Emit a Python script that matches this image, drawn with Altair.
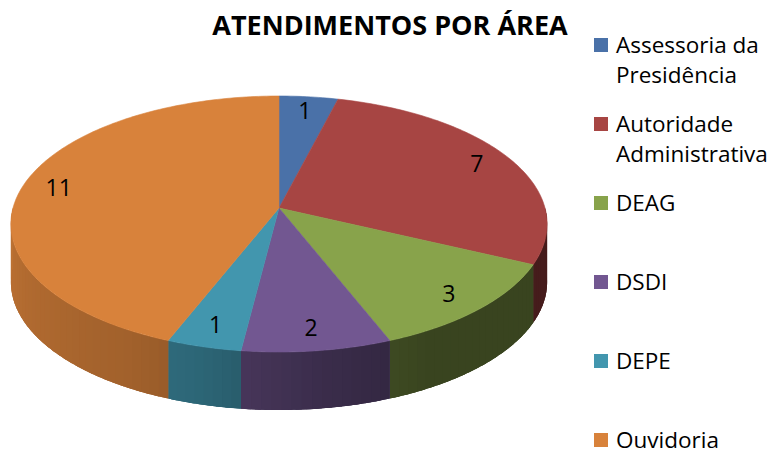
import numpy as np
import pandas as pd
import altair as alt

# ---- data ----
categories = ["Assessoria da Presidência", "Autoridade Administrativa", "DEAG", "DSDI", "DEPE", "Ouvidoria"]
legend_lines = [["Assessoria da", "Presidência"], ["Autoridade", "Administrativa"], ["DEAG"], ["DSDI"], ["DEPE"], ["Ouvidoria"]]
values = [1, 7, 3, 2, 1, 11]
top_colors = ["#4A71A8", "#A74543", "#88A34B", "#725791", "#4296AE", "#D8823B"]
title_text = "ATENDIMENTOS POR ÁREA"

# ---- 3D pie geometry (perspective ellipse) ----
X0, Y0, A, B, E, DEPTH = 279, 208, 266, 126, 0.125, 58


def proj(theta_deg, k=1.0):
    t = np.radians(theta_deg)
    d = 1 + E * k * np.cos(t)
    return X0 + A * k * np.sin(t) / d, Y0 - B * k * np.cos(t) / d


def shade(hexcol, f):
    r, g, b = (int(hexcol[i:i + 2], 16) for i in (1, 3, 5))
    return "#%02x%02x%02x" % tuple(int(max(0, min(255, c * f))) for c in (r, g, b))


def side_factor(theta):
    return np.interp(theta, [90, 150, 172, 195, 210, 270], [0.42, 0.42, 0.52, 0.68, 0.75, 0.88])


total = sum(values)
cum = np.cumsum([0] + values)
side_rows, top_rows, label_rows = [], [], []
pid = 0


def add_poly(rows, pts, col):
    global pid
    for j, (x, y) in enumerate(pts):
        rows.append(dict(pid=pid, ord=j, x=x, y=y, fill=col))
    pid += 1


for i, (cat, v) in enumerate(zip(categories, values)):
    t1, t2 = cum[i] / total * 360, cum[i + 1] / total * 360
    s1, s2 = max(t1, 90), min(t2, 270)
    if s2 > s1:
        # base side of the slice
        ts = np.linspace(s1, s2, max(3, int(np.ceil(s2 - s1)) + 1))
        xs, ys = proj(ts)
        add_poly(side_rows, list(zip(xs, ys)) + list(zip(xs[::-1], ys[::-1] + DEPTH)),
                 shade(top_colors[i], side_factor((s1 + s2) / 2)))
        # shading strips, each overlapping the next to hide seams
        n = max(1, int(np.ceil((s2 - s1) / 2.0)))
        edges = np.linspace(s1, s2, n + 1)
        for a, b in zip(edges[:-1], edges[1:]):
            bb = min(b + 1.2, s2)
            ts = np.linspace(a, bb, 5)
            xs, ys = proj(ts)
            add_poly(side_rows, list(zip(xs, ys)) + list(zip(xs[::-1], ys[::-1] + DEPTH)),
                     shade(top_colors[i], side_factor((a + b) / 2)))
    ts = np.linspace(t1, t2, max(3, int(np.ceil(t2 - t1)) + 1))
    xs, ys = proj(ts)
    add_poly(top_rows, [(X0, Y0)] + list(zip(xs, ys)) + [(X0, Y0)], top_colors[i])
    lx, ly = proj((t1 + t2) / 2, 0.86)
    label_rows.append(dict(x=lx, y=ly + 8, label=str(v)))

sides = pd.DataFrame(side_rows)
tops = pd.DataFrame(top_rows)
labels = pd.DataFrame(label_rows)

legend = pd.DataFrame({
    "cat": categories,
    "lines": legend_lines,
    "color": top_colors,
    "idx": list(range(len(categories))),
})
legend["sy"] = 45 + legend["idx"] * 79.0
legend["ty"] = legend["sy"] + 7.5
legend["sx"] = 601
legend["tx"] = 616

title_df = pd.DataFrame({"x": [390], "y": [35], "t": [title_text]})

xs_ = alt.Scale(domain=[8, 768])
ys_ = alt.Scale(domain=[8, 449], reverse=True)
X = lambda f: alt.X(f, type="quantitative", scale=xs_, axis=None)
Y = lambda f: alt.Y(f, type="quantitative", scale=ys_, axis=None)

side_layer = alt.Chart(sides).mark_line(filled=True, strokeWidth=0, interpolate="linear").encode(
    x=X("x"), y=Y("y"), detail="pid:N", order="ord:Q",
    fill=alt.Fill("fill:N", scale=None),
)
top_layer = alt.Chart(tops).mark_line(filled=True, strokeWidth=0.6, interpolate="linear").encode(
    x=X("x"), y=Y("y"), detail="pid:N", order="ord:Q",
    fill=alt.Fill("fill:N", scale=None), stroke=alt.Stroke("fill:N", scale=None),
)
label_layer = alt.Chart(labels).mark_text(fontSize=23, font="Open Sans", color="black", baseline="alphabetic", align="center").encode(
    x=X("x"), y=Y("y"), text="label:N"
)
title_layer = alt.Chart(title_df).mark_text(fontSize=27, font="Open Sans", fontWeight="bold", color="black", baseline="alphabetic", align="center").encode(
    x=X("x"), y=Y("y"), text="t:N"
)
leg_sq = alt.Chart(legend).mark_square(size=196, opacity=1, filled=True).encode(
    x=X("sx"), y=Y("sy"), fill=alt.Fill("color:N", scale=None)
)
leg_tx = alt.Chart(legend).mark_text(fontSize=22.5, font="Open Sans", color="black", baseline="alphabetic", align="left", lineHeight=30).encode(
    x=X("tx"), y=Y("ty"), text="lines"
)

chart = alt.layer(side_layer, top_layer, label_layer, title_layer, leg_sq, leg_tx).properties(
    width=760, height=441, padding=0, autosize=alt.AutoSizeParams(type="none")
).configure_view(stroke=None)

chart.save("out.html", embed_options={"renderer": "svg", "actions": False})
